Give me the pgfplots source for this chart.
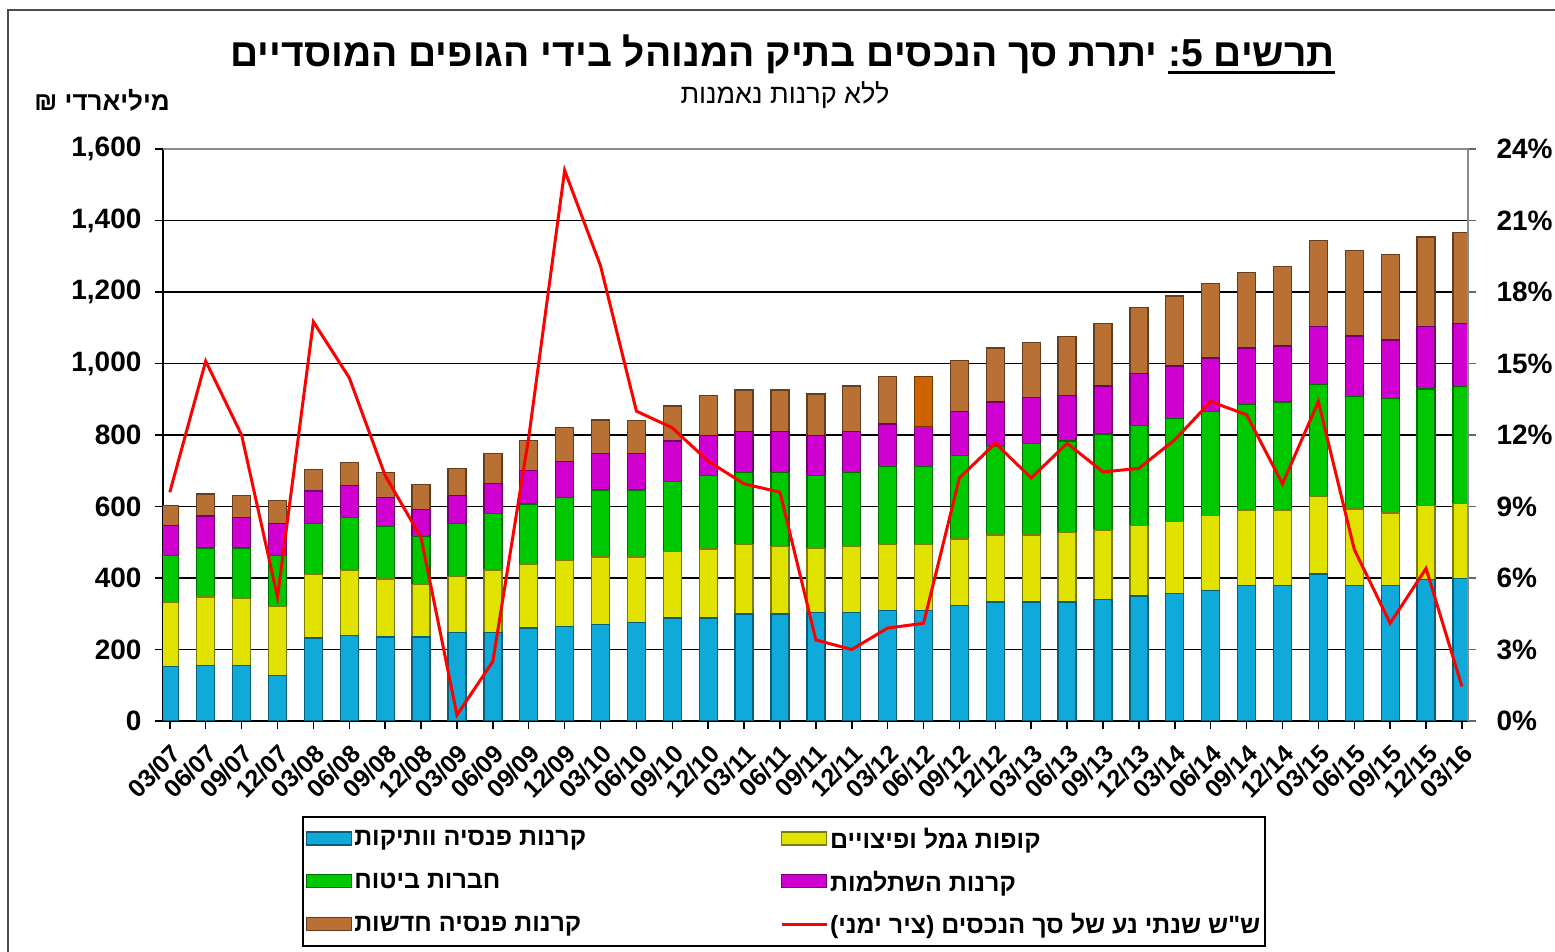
\documentclass[border=0pt]{standalone}
\usepackage{fontspec}
\setmainfont{Liberation Sans}
\newfontfamily\heb[Script=Hebrew]{Liberation Sans}
\TeXXeTstate=1
\usepackage{pgfplots}
\pgfplotsset{compat=1.18}
\usepackage{pgfplotstable}

\definecolor{cblue}{RGB}{16,170,218}
\definecolor{cyel}{RGB}{226,226,0}
\definecolor{cgreen}{RGB}{0,200,0}
\definecolor{cmag}{RGB}{208,0,208}
\definecolor{cbrown}{RGB}{185,112,52}
\definecolor{corange}{RGB}{205,100,0}

\newcommand\tickfont{\fontsize{28}{30}\selectfont\bfseries}
\newcommand\xtfont{\fontsize{25}{27}\selectfont\bfseries}
\newcommand\legfont{\fontsize{25}{28}\selectfont\bfseries}

\pgfplotsset{
  cyl/.style={fill=#1, draw=#1!55!black, line width=1.3pt,
    legend image code/.code={\draw[##1] (0pt,-6pt) rectangle (45pt,7pt);}},
  redleg/.style={legend image code/.code={\draw[##1] (0pt,0pt) -- (45pt,0pt);}},
}

\pgfplotstableread{
x a b c d e r
0 152 179 131 85 56 9.6
1 155 192 137 89 62 15.1
2 155 187 142 85 61 12.0
3 128 192 142 90 65 5.2
4 232 177 143 91 60 16.75
5 240 182 147 90 65 14.4
6 235 162 148 80 71 10.3
7 235 146 135 75 71 7.7
8 248 156 148 78 77 0.25
9 248 174 158 84 84 2.5
10 260 178 169 93 85 11.9
11 265 184 176 101 94 23.1
12 270 189 187 102 94 19.1
13 276 183 187 102 93 13.0
14 288 187 195 113 98 12.3
15 288 193 205 113 111 10.9
16 299 194 203 114 116 9.95
17 299 189 208 114 116 9.6
18 304 179 203 113 116 3.4
19 304 184 208 114 127 3.0
20 310 183 219 119 133 3.9
21 310 183 219 112 140 4.1
22 323 186 233 123 144 10.2
23 333 187 247 125 151 11.65
24 333 187 256 129 154 10.2
25 333 195 255 127 166 11.65
26 339 195 269 134 174 10.45
27 350 197 279 146 184 10.6
28 356 203 288 146 196 11.8
29 366 209 290 150 208 13.4
30 379 211 296 157 212 12.85
31 379 211 302 157 222 9.95
32 411 216 315 161 241 13.4
33 379 214 315 169 240 7.2
34 379 203 320 164 239 4.1
35 395 208 326 174 251 6.4
36 398 211 326 176 256 1.45
}\data

\begin{document}
\begin{tikzpicture}[x=1pt,y=1pt]
\useasboundingbox (0,0) rectangle (1555,952);
% outer frame
\draw[line width=2.5pt, black!70] (8,0) -- (8,942) -- (1560,942);

% titles
\node[anchor=base east, inner sep=0pt] (T2) at (1335,885) {\fontsize{39}{43}\selectfont\bfseries :5 {\heb תרשים}};
\draw[line width=3pt] ([yshift=-6pt]T2.base west) -- ([yshift=-6pt]T2.base east);
\node[anchor=base east, inner sep=0pt] at ([xshift=-11pt]T2.base west) {\fontsize{39}{43}\selectfont\heb\bfseries\beginR יתרת סך הנכסים בתיק המנוהל בידי הגופים המוסדיים\endR};
\node[anchor=base, inner sep=0pt] at (785,848) {\fontsize{27}{29}\selectfont\heb\beginR ללא קרנות נאמנות\endR};
\node[anchor=base east, inner sep=0pt] at (170,841) {\fontsize{26}{28}\selectfont\heb\bfseries\beginR מיליארדי ₪\endR};

\begin{axis}[
  at={(163pt,231pt)}, anchor=south west, scale only axis,
  width=1305pt, height=572pt,
  xmin=-0.19, xmax=36.17, ymin=0, ymax=1600,
  ybar stacked, bar width=18pt,
  axis x line*=bottom, axis y line*=left,
  axis line style={black, line width=2pt},
  xtick={0,...,36},
  xticklabels={03/07,06/07,09/07,12/07,03/08,06/08,09/08,12/08,03/09,06/09,09/09,12/09,03/10,06/10,09/10,12/10,03/11,06/11,09/11,12/11,03/12,06/12,09/12,12/12,03/13,06/13,09/13,12/13,03/14,06/14,09/14,12/14,03/15,06/15,09/15,12/15,03/16},
  ytick={0,200,...,1600},
  ymajorgrids, major grid style={black, line width=1.4pt},
  tick align=outside, major tick length=8pt, tick style={black, line width=1.5pt},
  x tick label style={font=\xtfont, rotate=45, anchor=north east, inner sep=1pt},
  xticklabel shift=12pt,
  y tick label style={font=\tickfont},
  yticklabel shift=10pt,
  /pgf/number format/assume math mode=true,
  /pgf/number format/1000 sep={,},
  legend columns=2, legend cell align=left,
  legend style={at={(0.1065,-0.166)}, anchor=north west, draw=black, line width=2pt,
    font=\legfont, row sep=17pt, inner xsep=3pt, inner ysep=9pt,
    /tikz/every even column/.append style={column sep=192pt}},
]
\addplot[cyl=cblue] table[x=x,y=a]{\data};
\addlegendentry{\heb\beginR קרנות פנסיה וותיקות\endR}
\addplot[cyl=cyel] table[x=x,y=b]{\data};
\addlegendentry{\heb\beginR קופות גמל ופיצויים\endR}
\addplot[cyl=cgreen] table[x=x,y=c]{\data};
\addlegendentry{\heb\beginR חברות ביטוח\endR}
\addplot[cyl=cmag] table[x=x,y=d]{\data};
\addlegendentry{\heb\beginR קרנות השתלמות\endR}
\addplot[cyl=cbrown] table[x=x,y=e]{\data};
\addlegendentry{\heb\beginR קרנות פנסיה חדשות\endR}
\addlegendimage{red, line width=3pt, redleg}
\addlegendentry{({\heb\beginR ציר ימני\endR}) {\heb\beginR ש"ש שנתי נע של סך הנכסים\endR}}
\end{axis}

% highlighted bar 06/12
\begin{axis}[
  at={(163pt,231pt)}, anchor=south west, scale only axis,
  width=1305pt, height=572pt,
  xmin=-0.19, xmax=36.17, ymin=0, ymax=1600,
  ybar stacked, bar width=18pt, hide axis,
]
\addplot[draw=none, fill=none] coordinates {(21,824)};
\addplot[cyl=corange] coordinates {(21,140)};
\end{axis}

% right axis with line
\begin{axis}[
  at={(163pt,231pt)}, anchor=south west, scale only axis,
  width=1305pt, height=572pt,
  xmin=-0.19, xmax=36.17, ymin=0, ymax=24,
  axis x line=none, axis y line*=right,
  axis line style={black!45, line width=1.5pt},
  ytick={0,3,...,24},
  yticklabel={\pgfmathprintnumber{\tick}\%},
  tick align=outside, major tick length=8pt, tick style={black!60, line width=1.5pt},
  y tick label style={font=\tickfont},
  yticklabel shift=17pt,
  /pgf/number format/assume math mode=true,
  clip=false,
]
\draw[black!45, line width=1.5pt] (rel axis cs:0,1) -- (rel axis cs:1,1);
\addplot[red, line width=3pt, mark=none] table[x=x,y=r]{\data};
\end{axis}
\end{tikzpicture}
\end{document}
